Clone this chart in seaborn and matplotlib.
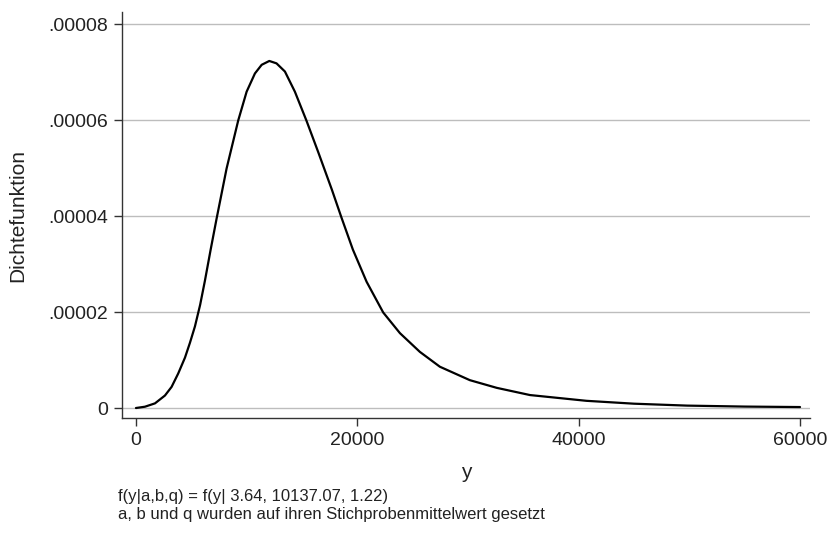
import matplotlib
matplotlib.use("Agg")
import matplotlib.pyplot as plt
import seaborn as sns
import pandas as pd

# values
y_income = [0, 810, 1720, 2620, 3220, 3820, 4430, 4880, 5330, 5800, 6230, 6750,
            7290, 8190, 9240, 10000, 10750, 11360, 12050, 12700, 13460, 14360,
            15400, 16470, 17700, 18550, 19600, 20840, 22340, 23850, 25650, 27460,
            30170, 32600, 35600, 40700, 45000, 49800, 55000, 60000]
density = [0.0, 0.027e-5, 0.097e-5, 0.26e-5, 0.44e-5, 0.72e-5, 1.05e-5, 1.36e-5,
           1.70e-5, 2.15e-5, 2.65e-5, 3.3e-5, 3.95e-5, 4.99e-5, 5.99e-5, 6.59e-5,
           6.97e-5, 7.15e-5, 7.23e-5, 7.18e-5, 7.01e-5, 6.59e-5, 5.99e-5, 5.33e-5,
           4.55e-5, 3.98e-5, 3.30e-5, 2.63e-5, 1.99e-5, 1.56e-5, 1.17e-5, 0.86e-5,
           0.58e-5, 0.42e-5, 0.27e-5, 0.15e-5, 0.09e-5, 0.05e-5, 0.03e-5, 0.02e-5]

x_ticks = [0, 20000, 40000, 60000]
x_tick_labels = ["0", "20000", "40000", "60000"]
y_ticks = [0, 0.00002, 0.00004, 0.00006, 0.00008]
y_tick_labels = ["0", ".00002", ".00004", ".00006", ".00008"]

x_label = "y"
y_label = "Dichtefunktion"
note_lines = ["f(y|a,b,q) = f(y| 3.64, 10137.07, 1.22)",
              "a, b und q wurden auf ihren Stichprobenmittelwert gesetzt"]

df = pd.DataFrame({"y": y_income, "f": density})

sns.set_theme(style="white")
plt.rcParams["font.family"] = ["Liberation Sans", "DejaVu Sans"]

fig = plt.figure(figsize=(8.32, 5.36), dpi=100)
ax = fig.add_axes([122 / 832, 1 - 418 / 536, (810 - 122) / 832, (418 - 12) / 536])

for t in y_ticks:
    ax.axhline(t, color="#bdbdbd", lw=1.0, zorder=0)

sns.lineplot(data=df, x="y", y="f", ax=ax, color="black", lw=1.6, zorder=3)

ax.set_xlim(-1260, 60900)
ax.set_ylim(-2.08e-6, 8.25e-5)
ax.set_xticks(x_ticks)
ax.set_xticklabels(x_tick_labels, fontsize=14)
ax.set_yticks(y_ticks)
ax.set_yticklabels(y_tick_labels, fontsize=14)
ax.tick_params(axis="both", direction="out", length=6, width=1, color="#333333",
               labelcolor="#222222", left=True, bottom=True, pad=4)

for side in ["top", "right"]:
    ax.spines[side].set_visible(False)
for side in ["left", "bottom"]:
    ax.spines[side].set_color("#333333")
    ax.spines[side].set_linewidth(1.0)

ax.set_xlabel(x_label, fontsize=15, color="#222222", labelpad=10)
ax.set_ylabel(y_label, fontsize=15, color="#222222", labelpad=15)

fig.text(118 / 832, 1 - 497 / 536, note_lines[0], fontsize=12, color="#222222",
         va="center", ha="left")
fig.text(118 / 832, 1 - 514 / 536, note_lines[1], fontsize=12, color="#222222",
         va="center", ha="left")

fig.savefig("out.png", dpi=100, facecolor="white")
